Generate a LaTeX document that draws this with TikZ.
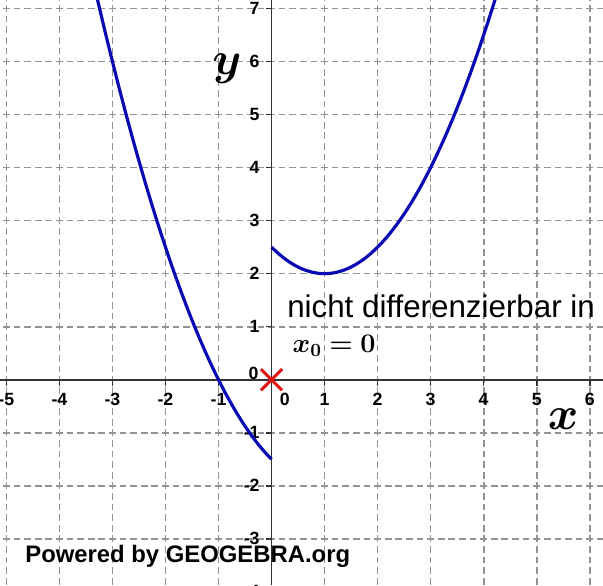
\documentclass[tikz,border=0pt]{standalone}
\usepackage{fontspec}
\setmainfont{Liberation Sans}
\usepackage{bm}
\usetikzlibrary{arrows.meta,positioning}
\definecolor{kurvenblau}{RGB}{10,10,180}
\definecolor{kreuzrot}{RGB}{225,20,20}

\begin{document}
\begin{tikzpicture}[
  gitter/.style={draw=gray!85,line width=0.9pt,dash pattern=on 3.6pt off 2.09pt,dash phase=1.8pt},
  achse/.style={draw=black!80,line width=0.85pt},
  kurve/.style={draw=kurvenblau,line width=1.7pt},
  zahl/.style={font=\bfseries\fontsize{9.5}{11}\selectfont,inner sep=0pt},
  achsname/.style={font=\fontsize{26}{30}\selectfont},
  ]
\useasboundingbox (-5.12,-3.88) rectangle (6.25,7.16);
\clip (-5.12,-3.88) rectangle (6.25,7.16);
\fill[white] (-5.12,-3.88) rectangle (6.25,7.16);
% grid and axes
\draw[gitter] (-6,-4) grid (7,8);
\draw[achse] (-5.12,0) -- (6.25,0);
\draw[achse] (0,-3.88) -- (0,7.16);
\foreach \i in {-5,-4,-3,-2,-1,1,2,3,4,5,6} {
  \draw[achse] (\i,0) -- (\i,-0.11);
  \node[zahl] (xl\i) at (\i,-0.37) {\i};
}
\foreach \j in {-4,-3,-2,-1,1,2,3,4,5,6,7} {
  \draw[achse] (0,\j) -- (-0.11,\j);
  \node[zahl,anchor=east] (yl\j) at (-0.22,\j) {\j};
}
\node[zahl] (xl0) at (0.25,-0.37) {0};
\node[zahl,anchor=east] (yl0) at (-0.24,0.11) {0};
% axis names
\node[achsname] (xname) at (5.5,-0.74) {$\bm{x}$};
\node[achsname] (yname) at (-0.84,5.86) {$\bm{y}$};
% the two parabola pieces
\draw[kurve] plot[domain=-3.3:0,samples=60] (\x,{0.5*\x*\x-\x-1.5});
\draw[kurve] plot[domain=0:4.25,samples=60] (\x,{0.5*\x*\x-\x+2.5});
% point x0
\coordinate (x0) at (0,0);
\draw[kreuzrot,line width=1.6pt] ([shift={(-0.2,-0.2)}]x0) -- ([shift={(0.2,0.2)}]x0);
\draw[kreuzrot,line width=1.6pt] ([shift={(-0.2,0.2)}]x0) -- ([shift={(0.2,-0.2)}]x0);
\node[anchor=base west,inner sep=0pt,font=\fontsize{16.8}{19}\selectfont] (hinweis) at (0.29,1.17) {nicht differenzierbar in};
\node[anchor=base west,inner sep=0pt,font=\fontsize{14}{16}\selectfont] (stelle) at (0.39,0.52) {$\bm{x_0=0}$};
\node[font=\bfseries\fontsize{12.8}{15}\selectfont] (geogebra) at (-1.58,-3.33) {Powered by GEOGEBRA.org};
\end{tikzpicture}
\end{document}
